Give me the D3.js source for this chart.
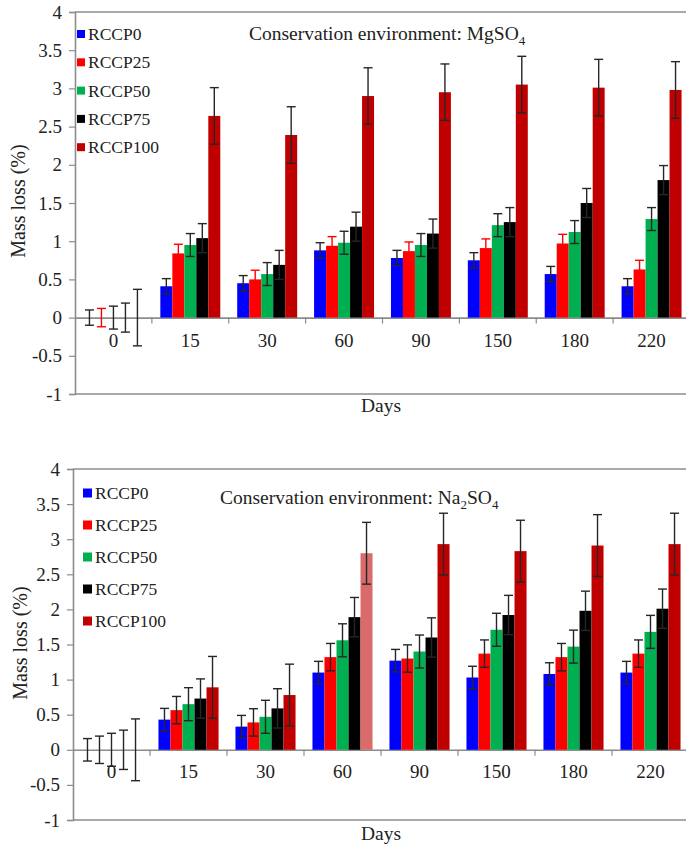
<!DOCTYPE html>
<html>
<head>
<meta charset="utf-8">
<script src="https://cdn.jsdelivr.net/npm/d3@7"></script>
<style>
  body { margin: 0; background: #fff; }
  svg text { font-family: "Liberation Serif", "Times New Roman", serif; }
</style>
</head>
<body>
<svg id="chart" width="686" height="848"></svg>
<script>
(function(){
	'use strict';

	var days = ['0', '15', '30', '60', '90', '150', '180', '220'];
	var series = ['RCCP0', 'RCCP25', 'RCCP50', 'RCCP75', 'RCCP100'];
	var colors = ['#0000ff', '#ff0000', '#00b050', '#000000', '#c00000'];
	var yTicks = [-1, -0.5, 0, 0.5, 1, 1.5, 2, 2.5, 3, 3.5, 4];

	// MgSO4 mass loss (%) per series, one value per day
	var mgRccp0   = [0, 0.41, 0.45, 0.88, 0.78, 0.75, 0.57, 0.41];
	var mgRccp25  = [0, 0.84, 0.50, 0.94, 0.87, 0.91, 0.97, 0.63];
	var mgRccp50  = [0, 0.95, 0.57, 0.98, 0.95, 1.21, 1.12, 1.29];
	var mgRccp75  = [0, 1.04, 0.69, 1.19, 1.10, 1.25, 1.50, 1.80];
	var mgRccp100 = [0, 2.64, 2.39, 2.90, 2.95, 3.05, 3.01, 2.98];
	// MgSO4 error bar half-widths per series
	var mgErr = [0.10, 0.12, 0.15, 0.19, 0.37];

	// Na2SO4 mass loss (%)
	var naRccp0   = [0, 0.43, 0.33, 1.10, 1.27, 1.03, 1.08, 1.10];
	var naRccp25  = [0, 0.565, 0.39, 1.32, 1.30, 1.37, 1.32, 1.37];
	var naRccp50  = [0, 0.65, 0.47, 1.56, 1.40, 1.71, 1.47, 1.68];
	var naRccp75  = [0, 0.73, 0.59, 1.89, 1.60, 1.92, 1.98, 2.01];
	var naRccp100 = [0, 0.89, 0.78, 2.80, 2.93, 2.83, 2.91, 2.93];
	var naErr = [0.16, 0.195, 0.235, 0.28, 0.44];

	var svg = d3.select('#chart');

	function drawPanel(cfg){
		var g = svg.append('g');
		var x = d3.scaleBand().domain(days).range([cfg.left, cfg.right]);
		var bw = x.bandwidth();
		var xs = d3.scaleBand().domain(series).range([bw * 0.11, bw * 0.89]);
		var y = d3.scaleLinear().domain([-1, 4]).range([cfg.bottom, cfg.top]);

		// frame lines
		[4, -1].forEach(function(v){
			g.append('line')
				.attr('x1', cfg.left).attr('x2', 686)
				.attr('y1', y(v)).attr('y2', y(v))
				.attr('stroke', '#8c8c8c').attr('stroke-width', 1.6);
		});

		// y axis
		var yAxis = d3.axisLeft(y).tickValues(yTicks).tickSize(6).tickPadding(7)
			.tickFormat(function(d){ return String(d); });
		var ya = g.append('g').attr('transform', 'translate(' + cfg.left + ',0)').call(yAxis);
		ya.select('.domain').attr('stroke', '#8c8c8c').attr('stroke-width', 1.6);
		ya.selectAll('.tick line').attr('stroke', '#8c8c8c').attr('stroke-width', 1.2);
		ya.selectAll('.tick text').attr('font-size', 19).attr('fill', '#222');

		// x axis on zero line
		var xAxis = d3.axisBottom(x).tickSize(0).tickPadding(cfg.labelPad);
		var xa = g.append('g').attr('transform', 'translate(0,' + y(0) + ')').call(xAxis);
		xa.select('.domain').attr('stroke', '#8c8c8c').attr('stroke-width', 1.6);
		xa.selectAll('.tick text').attr('font-size', 19).attr('fill', '#222');
		xa.selectAll('.sep')
			.data(days.slice(1))
			.enter().append('line')
				.attr('x1', function(d){ return x(d); })
				.attr('x2', function(d){ return x(d); })
				.attr('y1', 0).attr('y2', 6)
				.attr('stroke', '#8c8c8c').attr('stroke-width', 1.2);

		// bars
		series.forEach(function(s, i){
			var vals = cfg.values[i];
			g.append('g').selectAll('rect')
				.data(vals)
				.enter().append('rect')
					.attr('x', function(d, j){ return x(days[j]) + xs(s); })
					.attr('width', xs.bandwidth())
					.attr('y', function(d){ return y(Math.max(d, 0)); })
					.attr('height', function(d){ return Math.abs(y(d) - y(0)); })
					.attr('fill', function(d, j){
						return (cfg.faded && cfg.faded[0] === i && cfg.faded[1] === j) ? '#d96b6b' : colors[i];
					});
		});

		// error bars
		series.forEach(function(s, i){
			var vals = cfg.values[i];
			var e = cfg.err[i];
			var col = (cfg.redErr && i === 1) ? '#ff0000' : '#262626';
			var eg = g.append('g').attr('stroke', col).attr('stroke-width', 1.4).attr('fill', 'none');
			vals.forEach(function(d, j){
				var cx = x(days[j]) + xs(s) + xs.bandwidth() / 2;
				eg.append('line').attr('x1', cx).attr('x2', cx).attr('y1', y(d - e)).attr('y2', y(d + e));
				eg.append('line').attr('x1', cx - 4.5).attr('x2', cx + 4.5).attr('y1', y(d + e)).attr('y2', y(d + e));
				eg.append('line').attr('x1', cx - 4.5).attr('x2', cx + 4.5).attr('y1', y(d - e)).attr('y2', y(d - e));
			});
		});

		// legend
		var lg = g.append('g');
		series.forEach(function(s, i){
			var ly = cfg.legY + i * cfg.legStep;
			lg.append('rect')
				.attr('x', cfg.legX).attr('y', ly - cfg.legBox / 2)
				.attr('width', cfg.legBox).attr('height', cfg.legBox)
				.attr('fill', colors[i]);
			lg.append('text')
				.attr('x', cfg.legX + cfg.legBox + 3).attr('y', ly + 6)
				.attr('font-size', 17.5).attr('fill', '#222')
				.text(s);
		});

		// title
		var t = g.append('text')
			.attr('x', cfg.titleX).attr('y', cfg.titleY)
			.attr('font-size', 19.5).attr('fill', '#222');
		cfg.title.forEach(function(p){
			var ts = t.append('tspan').text(p[0]);
			if (p[1]) ts.attr('font-size', 13).attr('dy', 5);
			else if (p[2]) ts.attr('dy', -5);
		});

		// axis titles
		g.append('text')
			.attr('transform', 'translate(' + cfg.yTitleX + ',' + cfg.yTitleY + ') rotate(-90)')
			.attr('text-anchor', 'middle').attr('font-size', 20).attr('fill', '#222')
			.text('Mass loss (%)');
		g.append('text')
			.attr('x', cfg.xTitleX).attr('y', cfg.xTitleY)
			.attr('text-anchor', 'middle').attr('font-size', 19.5).attr('fill', '#222')
			.text('Days');
	}

	drawPanel({
		left: 75, right: 690, top: 12, bottom: 394,
		labelPad: 16,
		values: [mgRccp0, mgRccp25, mgRccp50, mgRccp75, mgRccp100],
		err: mgErr, redErr: true,
		legX: 77, legY: 34, legStep: 28.3, legBox: 8,
		title: [['Conservation environment: MgSO'], ['4', true]],
		titleX: 249, titleY: 40,
		yTitleX: 25, yTitleY: 201,
		xTitleX: 381, xTitleY: 412
	});

	drawPanel({
		left: 73, right: 689, top: 469, bottom: 820,
		labelPad: 15,
		values: [naRccp0, naRccp25, naRccp50, naRccp75, naRccp100],
		err: naErr, redErr: false, faded: [4, 3],
		legX: 83, legY: 493, legStep: 32, legBox: 9,
		title: [['Conservation environment: Na'], ['2', true], ['SO', false, true], ['4', true]],
		titleX: 220, titleY: 504,
		yTitleX: 27, yTitleY: 643,
		xTitleX: 381, xTitleY: 840
	});

})();
</script>
</body>
</html>
